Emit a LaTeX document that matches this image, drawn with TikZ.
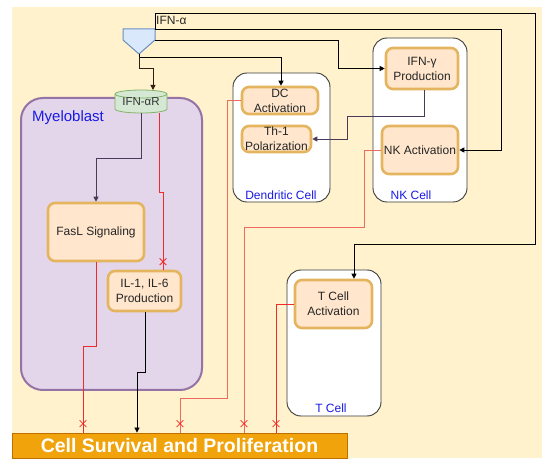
\documentclass[tikz,border=0pt]{standalone}
\usepackage{fontspec}
\setmainfont{Liberation Sans}
\usetikzlibrary{arrows.meta,shapes.misc,calc}
\definecolor{bgyellow}{HTML}{FFF2CC}
\definecolor{boxfill}{HTML}{FFE6CC}
\definecolor{boxedge}{HTML}{E4B55E}
\definecolor{myfill}{HTML}{E3D6EA}
\definecolor{myedge}{HTML}{9673A6}
\definecolor{cellline}{HTML}{3A3A3A}
\definecolor{lblblue}{HTML}{1A1AE6}
\definecolor{recfill}{HTML}{D5E8D4}
\definecolor{recedge}{HTML}{82B366}
\definecolor{srcfill}{HTML}{DAE8FC}
\definecolor{srcedge}{HTML}{6C8EBF}
\definecolor{barfill}{HTML}{F0A30A}
\definecolor{baredge}{HTML}{BD7000}
\definecolor{inhred}{HTML}{F02A2A}
\definecolor{inhsal}{HTML}{EE6A5E}
\definecolor{darkpur}{HTML}{4A3A5A}
\newcommand{\fsz}[2]{\fontsize{#1}{#2}\selectfont}
\tikzset{
  proc/.style={draw=boxedge, line width=2.6pt, fill=boxfill, rounded corners=7pt,
    align=center, font=\fsz{12}{15}, inner sep=0pt, text=black!85},
  cellbox/.style={draw=cellline, fill=white, rounded corners=14pt, line width=0.9pt, inner sep=0pt},
  lbl/.style={text=lblblue, font=\fsz{12}{14}, inner sep=0pt},
  conn/.style={line width=0.8pt, -{Triangle[length=5pt,width=5pt]}},
  inh/.style={line width=0.8pt, draw=inhred},
  xmk/.style={draw=inhred, cross out, minimum width=6pt, minimum height=6pt, inner sep=0pt, line width=0.8pt}
}
\begin{document}
\begin{tikzpicture}[x=1pt,y=-1pt]
\useasboundingbox (0,0) rectangle (550,468);
\fill[bgyellow] (12,7) rectangle (542,458);

% myeloblast
\node[draw=myedge, fill=myfill, line width=2pt, rounded corners=22pt,
      minimum width=181pt, minimum height=292pt, inner sep=0pt] (myelo) at (111.5,244) {};
\node[text=lblblue, font=\fsz{15}{17}, anchor=west, inner sep=0pt] (mylbl) at (32,118) {Myeloblast};

% cell compartments
\node[cellbox, minimum width=97pt, minimum height=129pt] (dccell) at (281.5,137.5) {};
\node[lbl] (dclbl) at (281,195) {Dendritic Cell};
\node[cellbox, minimum width=94pt, minimum height=164pt] (nkcell) at (420,120) {};
\node[lbl] (nklbl) at (411,195) {NK Cell};
\node[cellbox, minimum width=94pt, minimum height=146pt] (tcell) at (334,343) {};
\node[lbl] (tlbl) at (331,408) {T Cell};

% process boxes
\node[proc, minimum width=76pt, minimum height=27pt] (dca) at (280,100.5) {DC\\Activation};
\node[proc, minimum width=69pt, minimum height=26pt] (th1) at (276.5,139) {Th-1\\Polarization};
\node[proc, minimum width=72pt, minimum height=41pt] (ifng) at (422,68.5) {IFN-γ\\Production};
\node[proc, minimum width=76pt, minimum height=48pt] (nka) at (420,150) {NK Activation};
\node[proc, minimum width=77pt, minimum height=48pt] (tact) at (333.5,304) {T Cell\\Activation};
\node[proc, minimum width=96pt, minimum height=58pt] (fasl) at (96,232) {FasL Signaling};
\node[proc, minimum width=73pt, minimum height=40pt] (il) at (144.5,291) {IL-1, IL-6\\Production};

% receptor cylinder
\fill[recfill] (115,94) -- (115,109) arc[start angle=180, end angle=360, x radius=26pt, y radius=4pt]
  -- (167,94) arc[start angle=0, end angle=180, x radius=26pt, y radius=4pt] -- cycle;
\draw[recedge, line width=0.8pt] (115,94) -- (115,109) arc[start angle=180, end angle=360, x radius=26pt, y radius=4pt]
  -- (167,94) arc[start angle=0, end angle=180, x radius=26pt, y radius=4pt] -- cycle;
\draw[recedge, line width=0.8pt] (115,94) arc[start angle=180, end angle=360, x radius=26pt, y radius=4pt];
\node[font=\fsz{11.5}{13}, text=black!80, inner sep=0pt, minimum width=52pt, minimum height=23pt] (ifnar) at (141,102) {IFN-αR};

% source (IFN-alpha)
\node[inner sep=0pt, minimum width=32pt, minimum height=25pt] (src) at (139,41.5) {};
\filldraw[fill=srcfill, draw=srcedge, line width=1pt] (123,29) -- (155,29) -- (155,40) -- (139,54) -- (123,40) -- cycle;
\coordinate (srcTR) at (155,29);
\coordinate (srcR) at (155,40);
\coordinate (srcTip) at (139,54);
\node[anchor=west, font=\fsz{12}{14}, inner sep=0pt, text=black!85] (ifnalbl) at (156,20) {IFN-α};

% bottom bar
\node[draw=baredge, fill=barfill, line width=0.8pt, minimum width=335pt, minimum height=25pt,
      inner sep=0pt, text=white, font=\bfseries\fsz{19.5}{22}] (bar) at (179.5,445.5) {Cell Survival and Proliferation};

% activating connectors
\draw[conn] (srcTR) -- (155,13) -- (535,13) -- (535,244) -- (354,244) -- (354,0 |- tact.north);
\draw[conn] (srcTR) -- (501,29) -- (501,150) -- (nka.east);
\draw[conn] (srcR) -- (338,40) -- (338,68.5) -- (ifng.west);
\draw[conn] (srcTip) -- (139,57) -- (281,57) -- (281,0 |- dca.north);
\draw[conn, draw=black!75!brown] (139,57) -- (139,68) -- (153,68) -- (153,90);
\draw[conn, draw=darkpur] (141,113) -- (141,158) -- (96,158) -- (fasl.north);
\draw[conn, draw=darkpur] (424,0 |- ifng.south) -- (424,116) -- (347,116) -- (347,139) -- (th1.east);
\draw[conn] (145,0 |- il.south) -- (145,372) -- (137,372) -- (137,0 |- bar.north);

% inhibitory connectors
\draw[inh] (159,113) -- (159,192) -- (163,192) -- node[xmk, pos=1, yshift=8pt]{} (163,0 |- il.north);
\draw[inh] (fasl.south) -- (96,346) -- (83,346) -- node[xmk, pos=1, yshift=9pt]{} (83,0 |- bar.north);
\draw[inh, draw=inhsal] (dca.west) -- (227,100.5) -- (227,398) -- (180,398) -- node[xmk, pos=1, yshift=9pt]{} (180,0 |- bar.north);
\draw[inh, draw=inhsal] (nka.west) -- (364,150) -- (364,227) -- (244,227) -- node[xmk, pos=1, yshift=9pt]{} (244,0 |- bar.north);
\draw[inh] (tact.west) -- (276,304) -- node[xmk, pos=1, yshift=9pt]{} (276,0 |- bar.north);
\end{tikzpicture}
\end{document}
